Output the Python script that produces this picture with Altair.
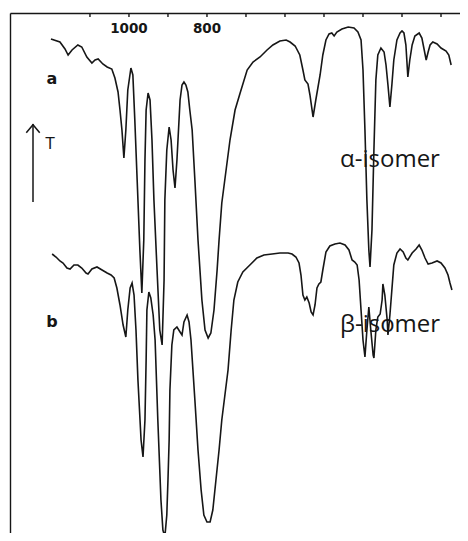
import altair as alt
import pandas as pd

# Spectrum a (alpha-isomer): wavenumber (cm-1) and transmittance (arbitrary units)
wn_a = [1200, 1177, 1164, 1156, 1146, 1131, 1121, 1108, 1095, 1087, 1079, 1067, 1056, 1044,
        1036, 1028, 1023, 1018, 1013, 1008, 1003, 995, 990, 985, 979, 972, 967, 962, 959, 956,
        951, 946, 941, 936, 928, 921, 915, 910, 908, 903, 897, 892, 887, 882, 877, 869, 864,
        859, 854, 849, 844, 838, 831, 823, 813, 805, 797, 790, 782, 774, 769, 762, 751, 741,
        728, 715, 697, 682, 664, 646, 631, 613, 597, 587, 574, 562, 554, 549, 541, 536, 528,
        521, 510, 503, 495, 487, 480, 474, 467, 454, 438, 423, 413, 405, 400, 395, 390, 385,
        382, 377, 372, 367, 362, 354, 346, 341, 336, 331, 326, 321, 313, 305, 300, 295, 290,
        285, 280, 274, 267, 256, 249, 244, 238, 233, 228, 221, 210, 200, 187, 180, 174]
t_a = [502, 499, 492, 486, 491, 496, 494, 484, 478, 481, 482, 477, 474, 472,
       463, 449, 431, 411, 383, 411, 451, 473, 466, 421, 361, 291, 248, 301, 381, 431,
       448, 441, 401, 341, 271, 211, 196, 261, 341, 391, 414, 401, 371, 353, 381, 441, 456,
       459, 456, 449, 431, 411, 361, 301, 241, 211, 203, 208, 231, 271, 301, 338, 371, 401,
       431, 448, 471, 479, 484, 491, 496, 500, 501, 499, 495, 486, 471, 461, 457, 446, 424,
       441, 466, 486, 501, 507, 508, 505, 509, 512, 514, 513, 509, 501, 471, 411, 341, 291,
       274, 311, 391, 461, 486, 493, 489, 476, 456, 434, 456, 481, 501, 508, 510, 508, 496,
       464, 481, 496, 505, 508, 503, 493, 481, 489, 496, 499, 497, 493, 490, 486, 476]

# Spectrum b (beta-isomer)
wn_b = [1197, 1187, 1177, 1169, 1159, 1151, 1141, 1131, 1121, 1110, 1105, 1095, 1082, 1069,
        1056, 1046, 1038, 1031, 1023, 1015, 1008, 1003, 997, 992, 987, 982, 977, 969, 964, 959,
        956, 954, 949, 944, 938, 933, 926, 918, 913, 908, 903, 900, 897, 895, 890, 885, 877,
        869, 864, 859, 851, 846, 841, 836, 831, 823, 815, 808, 800, 792, 785, 777, 769, 762,
        754, 746, 738, 731, 721, 708, 690, 672, 654, 633, 613, 592, 582, 572, 564, 559, 554,
        549, 544, 538, 533, 528, 523, 518, 513, 508, 503, 495, 485, 472, 459, 446, 436, 428,
        421, 415, 410, 405, 400, 395, 390, 385, 380, 374, 372, 367, 362, 356, 351, 349, 344,
        338, 336, 331, 326, 321, 313, 305, 297, 290, 285, 274, 264, 256, 249, 241, 233, 223,
        210, 200, 190, 182, 177, 172]
t_b = [287, 284, 280, 278, 273, 272, 276, 276, 273, 268, 267, 272, 274, 271,
       268, 266, 263, 253, 236, 216, 204, 231, 253, 258, 246, 211, 161, 101, 84, 121,
       181, 231, 249, 243, 226, 201, 121, 41, 11, 4, 26, 61, 101, 151, 196, 211, 214,
       209, 206, 219, 226, 219, 201, 171, 141, 91, 51, 26, 19, 19, 31, 61, 91, 121,
       146, 171, 211, 241, 259, 269, 276, 283, 286, 287, 288, 288, 287, 284, 278, 266, 246,
       241, 244, 238, 229, 226, 236, 253, 257, 259, 271, 289, 295, 297, 298, 296, 291, 281,
       279, 276, 261, 231, 201, 184, 211, 234, 211, 186, 183, 211, 224, 227, 241, 257, 246,
       221, 206, 226, 251, 276, 288, 292, 289, 283, 281, 288, 292, 296, 291, 283, 277, 278,
       280, 278, 273, 266, 258, 251]

tick_wn = [1100, 1000, 900, 800, 700, 600, 500, 400, 300, 200]
label_wn = [1000, 800]
label_txt = ["1000", "800"]

ink = "#161616"

df_a = pd.DataFrame({"wn": wn_a, "T": t_a, "i": range(len(wn_a))})
df_b = pd.DataFrame({"wn": wn_b, "T": t_b, "i": range(len(wn_b))})
df_ticks = pd.DataFrame({"wn": tick_wn})
df_labels = pd.DataFrame({"wn": label_wn, "txt": label_txt})

xscale = alt.Scale(domain=[151.3, 1305], reverse=True, nice=False, zero=False)
yscale = alt.Scale(domain=[8, 528], nice=False, zero=False)

x_enc = alt.X("wn:Q", scale=xscale,
              axis=alt.Axis(orient="top", domain=True, ticks=False, labels=False, grid=False,
                            title=None, domainColor=ink, domainWidth=1.6))
y_enc = alt.Y("T:Q", scale=yscale,
              axis=alt.Axis(orient="left", domain=True, ticks=False, labels=False, grid=False,
                            title=None, domainColor=ink, domainWidth=1.4))

line_a = alt.Chart(df_a).mark_line(color=ink, strokeWidth=1.6, clip=False).encode(
    x=x_enc, y=y_enc, order="i:Q")
line_b = alt.Chart(df_b).mark_line(color=ink, strokeWidth=1.6, clip=False).encode(
    x=alt.X("wn:Q", scale=xscale), y=alt.Y("T:Q", scale=yscale), order="i:Q")

ticks = alt.Chart(df_ticks).mark_rule(color=ink, strokeWidth=1.4).encode(
    x=alt.X("wn:Q", scale=xscale), y=alt.value(0), y2=alt.value(4))

labels = alt.Chart(df_labels).mark_text(font="DejaVu Sans", fontWeight="bold", fontSize=13.5,
                                        color=ink, baseline="middle", align="center").encode(
    x=alt.X("wn:Q", scale=xscale), y=alt.value(16), text="txt:N")

def note(txt, x, y, size, font="DejaVu Sans", weight="normal"):
    return alt.Chart(pd.DataFrame({"t": [txt]})).mark_text(
        font=font, fontSize=size, fontWeight=weight, color=ink, baseline="middle",
        align="center").encode(x=alt.value(x), y=alt.value(y), text="t:N")

arrow_line = alt.Chart(pd.DataFrame({"k": [0]})).mark_rule(color=ink, strokeWidth=1.5).encode(
    x=alt.value(23), y=alt.value(111), y2=alt.value(189))
arrow_head = alt.Chart(pd.DataFrame({"k": [0]})).mark_point(
    shape="M-1,0.7L0,-0.5L1,0.7", filled=False, color=ink, strokeWidth=1.5, size=180,
    opacity=1).encode(x=alt.value(23), y=alt.value(115))

chart = alt.layer(
    line_a, line_b, ticks, labels,
    note("a", 42, 66, 16, weight="bold"), note("b", 42, 309, 16, weight="bold"),
    note("T", 40, 131, 15),
    note("α-isomer", 380, 147, 24, font="Open Sans"),
    note("β-isomer", 380, 312, 24, font="Open Sans"),
    arrow_line, arrow_head,
).properties(
    width=450, height=520,
    padding={"left": 2, "top": 5, "right": 0, "bottom": 0},
    autosize=alt.AutoSizeParams(type="none"),
).configure_view(stroke=None).configure(background="white")

chart.save("out.html", embed_options={"renderer": "svg", "actions": False})
